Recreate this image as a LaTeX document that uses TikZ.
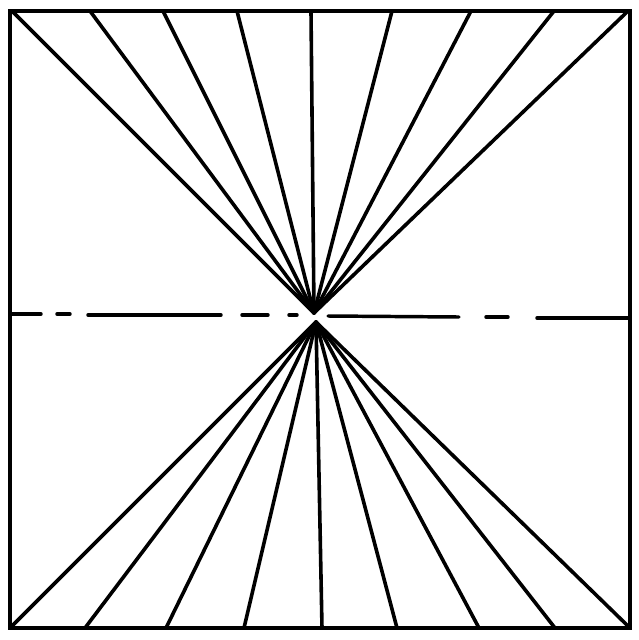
\documentclass[tikz,border=0pt]{standalone}
\usepackage{tikz}

\begin{document}
\begin{tikzpicture}[x=0.75pt,y=0.75pt,yscale=-1,xscale=1]
\tikzset{ray/.style={line width=2.7pt,line cap=round},
  frame/.style={line width=3.4pt,line join=miter},
  axisdash/.style={line width=2.6pt,line cap=round}}
\useasboundingbox (0,0) rectangle (639,640);

%Shape: Square [id:frame]
\draw[frame] (10,11) rectangle (630,628);

% apex of the two fans
\coordinate (apexT) at (314,313);
\coordinate (apexB) at (316,322);

%Upper fan
\foreach \xt in {12,90,163,237,311,392,471,554,628}
  \draw[ray] (apexT) -- (\xt,11);
%Lower fan
\foreach \xb in {10,85,166,244,322,397,479,555,630}
  \draw[ray] (apexB) -- (\xb,628);

%Dash-dot centre line
\draw[axisdash] (10,314) -- (41,314);
\draw[axisdash] (57,314) -- (70,314);
\draw[axisdash] (88,315) -- (221,315);
\draw[axisdash] (242,315) -- (268,315);
\draw[axisdash] (289,315) -- (297,315);
\draw[axisdash] (328,316) -- (459,317);
\draw[axisdash] (486,317) -- (508,317);
\draw[axisdash] (537,318) -- (630,318);

\end{tikzpicture}
\end{document}
